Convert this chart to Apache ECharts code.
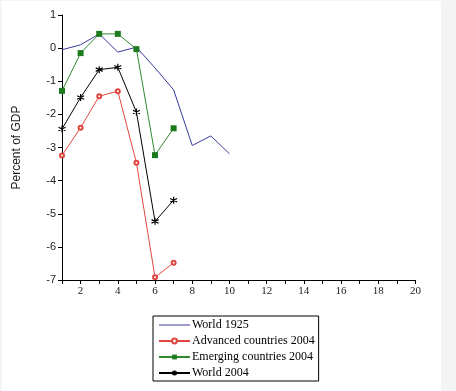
<!DOCTYPE html>
<html>
<head>
<meta charset="utf-8">
<script src="https://cdn.jsdelivr.net/npm/echarts@6/dist/echarts.min.js"></script>
<style>
html,body{margin:0;padding:0;background:#f4f4f4;width:456px;height:391px;overflow:hidden;}
#chart{position:absolute;left:2px;top:1px;width:439px;height:390px;background:#fff;}
</style>
</head>
<body>
<div id="chart"></div>
<script>
const periods1925 = [1, 2, 3, 4, 5, 6, 7, 8, 9, 10];
const world1925 = [-0.05, 0.1, 0.43, -0.12, 0.03, -0.6, -1.26, -2.94, -2.65, -3.19];
const periods2004 = [1, 2, 3, 4, 5, 6, 7];
const advanced2004 = [-3.24, -2.4, -1.45, -1.3, -3.46, -6.92, -6.48];
const emerging2004 = [-1.29, -0.15, 0.43, 0.43, -0.03, -3.23, -2.42];
const world2004 = [-2.44, -1.49, -0.65, -0.58, -1.93, -5.23, -4.59];
const seriesNames = ['World 1925', 'Advanced countries 2004', 'Emerging countries 2004', 'World 2004'];
const yAxisTitle = 'Percent of GDP';

const pairs = (xs, ys) => xs.map((x, i) => [x, ys[i]]);
const starPath = 'path://M0,-5L0,5M-4.33,-2.5L4.33,2.5M-4.33,2.5L4.33,-2.5M-0.01,-5L0.01,-5';
const blue = '#3a3a9e', red = '#e0463f', green = '#2f8a2f';

const chart = echarts.init(document.getElementById('chart'), null, {renderer: 'canvas'});
chart.setOption({
  animation: false,
  backgroundColor: '#fff',
  grid: {left: 60, right: 25.5, top: 14, bottom: 111, containLabel: false},
  legend: {
    orient: 'vertical',
    left: 151, top: 315,
    borderColor: '#000', borderWidth: 1,
    padding: [3, 4, 2, 5],
    itemWidth: 31, itemHeight: 6, itemGap: 4,
    textStyle: {fontFamily: 'Liberation Serif', fontSize: 12, color: '#000', padding: [0,0,0,-3], lineHeight: 12},
    data: [
      {name: seriesNames[0], icon: 'path://M0,0h31v1h-31z'},
      seriesNames[1], seriesNames[2], seriesNames[3]
    ]
  },
  xAxis: {
    type: 'value', min: 1, max: 20, interval: 1,
    axisLine: {onZero: false, lineStyle: {color: '#000', width: 1}},
    axisTick: {inside: false, length: 4, lineStyle: {color: '#000'}},
    axisLabel: {
      fontFamily: 'Liberation Serif', fontSize: 11, color: '#222', margin: 6,
      formatter: v => (v % 2 === 0 ? String(v) : '')
    },
    splitLine: {show: false}
  },
  yAxis: {
    type: 'value', min: -7, max: 1, interval: 1,
    name: yAxisTitle, nameLocation: 'middle', nameGap: 39, nameRotate: 90,
    nameTextStyle: {fontFamily: 'Liberation Sans', fontSize: 12, color: '#222'},
    axisLine: {show: true, onZero: false, lineStyle: {color: '#000', width: 1}},
    axisTick: {show: true, inside: false, length: 4, lineStyle: {color: '#000'}},
    axisLabel: {fontFamily: 'Liberation Sans', fontSize: 11, color: '#222', margin: 6},
    splitLine: {show: false}
  },
  series: [
    {
      name: seriesNames[0], type: 'line', data: pairs(periods1925, world1925),
      symbol: 'none', lineStyle: {color: blue, width: 1}, itemStyle: {color: blue}
    },
    {
      name: seriesNames[1], type: 'line', data: pairs(periods2004, advanced2004),
      symbol: 'emptyCircle', symbolSize: 4,
      lineStyle: {color: red, width: 1},
      itemStyle: {color: red, borderWidth: 1}
    },
    {
      name: seriesNames[2], type: 'line', data: pairs(periods2004, emerging2004),
      symbol: 'rect', symbolSize: 6,
      lineStyle: {color: green, width: 1},
      itemStyle: {color: '#1e7a1e', borderWidth: 0}
    },
    {
      name: seriesNames[3], type: 'line', data: pairs(periods2004, world2004),
      symbol: starPath, symbolSize: 7,
      lineStyle: {color: '#000', width: 1},
      itemStyle: {color: '#000', borderColor: '#000', borderWidth: 1.2}
    }
  ]
});
</script>
</body>
</html>
